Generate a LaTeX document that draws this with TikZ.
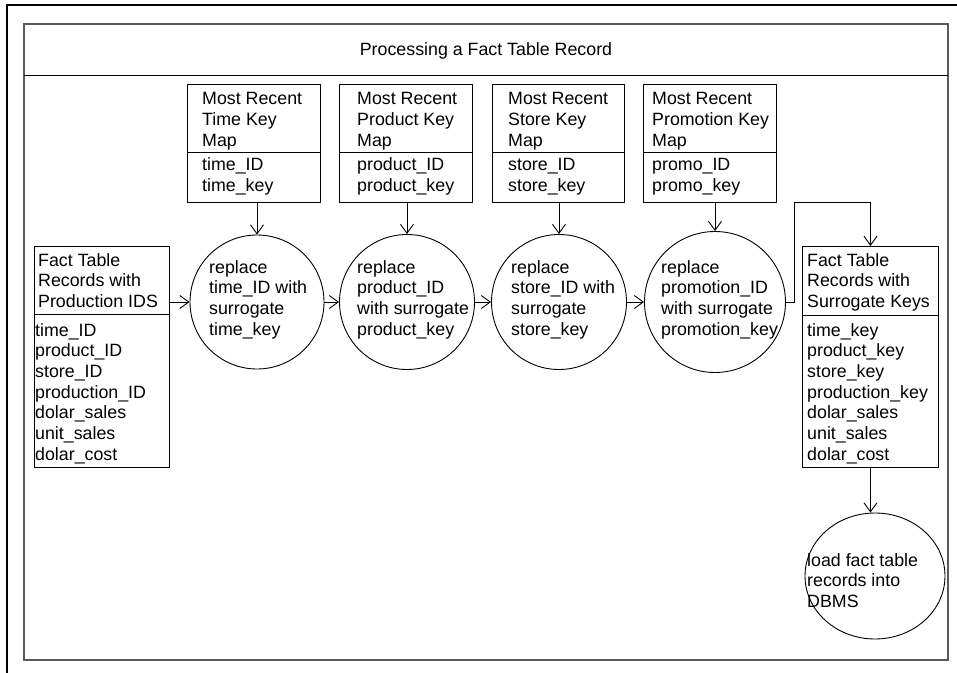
\documentclass[tikz,border=0pt]{standalone}
\usepackage{fontspec}
\setmainfont{Liberation Sans}
\usetikzlibrary{arrows.meta,shapes.geometric}
\begin{document}
\begin{tikzpicture}[x=1bp,y=-1bp,
  box/.style={draw,line width=0.9bp,rectangle,inner sep=0pt,anchor=north west},
  proc/.style={draw,line width=0.9bp,circle,inner sep=0pt},
  txt/.style={inner sep=0pt,anchor=base west,align=left,font=\fontsize{17.8bp}{20.7bp}\selectfont},
  conn/.style={line width=0.9bp,-{Straight Barb[length=9bp,width=13bp]}}
]
\useasboundingbox (0,0) rectangle (957,673);
\draw[line width=1.5bp] (7,673) -- (7,5) -- (957,5);
\draw[line width=1.8bp, draw=gray!70!black] (24,24) rectangle (948,660);
\draw[line width=1bp] (24,76) -- (948,76);
\node[txt, anchor=center] (title) at (486,51) {Processing a Fact Table Record};

% key map boxes
\node[box, minimum width=133bp, minimum height=118bp] (k1) at (187,84) {};
\node[box, minimum width=133bp, minimum height=118bp] (k2) at (339,84) {};
\node[box, minimum width=132bp, minimum height=118bp] (k3) at (492,84) {};
\node[box, minimum width=133bp, minimum height=118bp] (k4) at (643,84) {};
\foreach \k in {k1,k2,k3,k4}{
  \draw[line width=0.9bp] (\k.west |- 0,152) -- (\k.east |- 0,152);
}
% (base = last line's baseline)
\node[txt] (k1a) at (202,146.4) {Most Recent\\Time Key\\Map};
\node[txt] (k1b) at (202,191.7) {time\_ID\\time\_key};
\node[txt] (k2a) at (357,146.4) {Most Recent\\Product Key\\Map};
\node[txt] (k2b) at (357,191.7) {product\_ID\\product\_key};
\node[txt] (k3a) at (508,146.4) {Most Recent\\Store Key\\Map};
\node[txt] (k3b) at (508,191.7) {store\_ID\\store\_key};
\node[txt] (k4a) at (652,146.4) {Most Recent\\Promotion Key\\Map};
\node[txt] (k4b) at (652,191.7) {promo\_ID\\promo\_key};

% process circles
\node[proc, minimum size=134bp] (c1) at (257,302) {};
\node[proc, minimum size=135bp] (c2) at (407,302) {};
\node[proc, minimum size=135bp] (c3) at (559,302) {};
\node[proc, minimum size=141bp] (c4) at (715,302) {};
\node[txt] (c1t) at (209,335.1) {replace\\time\_ID with\\surrogate\\time\_key};
\node[txt] (c2t) at (357,335.1) {replace\\product\_ID\\with surrogate\\product\_key};
\node[txt] (c3t) at (511,335.1) {replace\\store\_ID with\\surrogate\\store\_key};
\node[txt] (c4t) at (661,335.1) {replace\\promotion\_ID\\with surrogate\\promotion\_key};

% fact table boxes
\node[box, minimum width=135bp, minimum height=221bp] (lb) at (34,246) {};
\draw[line width=0.9bp] (lb.west |- 0,314) -- (lb.east |- 0,314);
\node[txt] (lbt) at (38,307.4) {Fact Table\\Records with\\Production IDS};
\node[txt] (lbb) at (35,460.2) {time\_ID\\product\_ID\\store\_ID\\production\_ID\\dolar\_sales\\unit\_sales\\dolar\_cost};

\node[box, minimum width=136bp, minimum height=221bp] (rb) at (802,246) {};
\draw[line width=0.9bp] (rb.west |- 0,315) -- (rb.east |- 0,315);
\node[txt] (rbt) at (807,307.4) {Fact Table\\Records with\\Surrogate Keys};
\node[txt] (rbb) at (807,460.2) {time\_key\\product\_key\\store\_key\\production\_key\\dolar\_sales\\unit\_sales\\dolar\_cost};

% load ellipse
\node[draw, line width=0.9bp, ellipse, inner sep=0pt, minimum width=140bp, minimum height=126bp] (e) at (875,576) {};
\node[txt] (et) at (807,607.4) {load fact table\\records into\\DBMS};

% connectors
\draw[conn] (c1.west -| lb.east) -- (c1.west);
\draw[conn] (c1.east) -- (c2.west);
\draw[conn] (c2.east) -- (c3.west);
\draw[conn] (c3.east) -- (c4.west);
\draw[conn] (c1.north |- k1.south) -- (c1.north);
\draw[conn] (c2.north |- k2.south) -- (c2.north);
\draw[conn] (c3.north |- k3.south) -- (c3.north);
\draw[conn] (c4.north |- k4.south) -- (c4.north);
\coordinate (bend) at (794,202);
\draw[conn] (c4.east) -| (bend) -| (rb.north);
\draw[conn] (rb.south) -- (rb.south |- e.north);
\end{tikzpicture}
\end{document}
